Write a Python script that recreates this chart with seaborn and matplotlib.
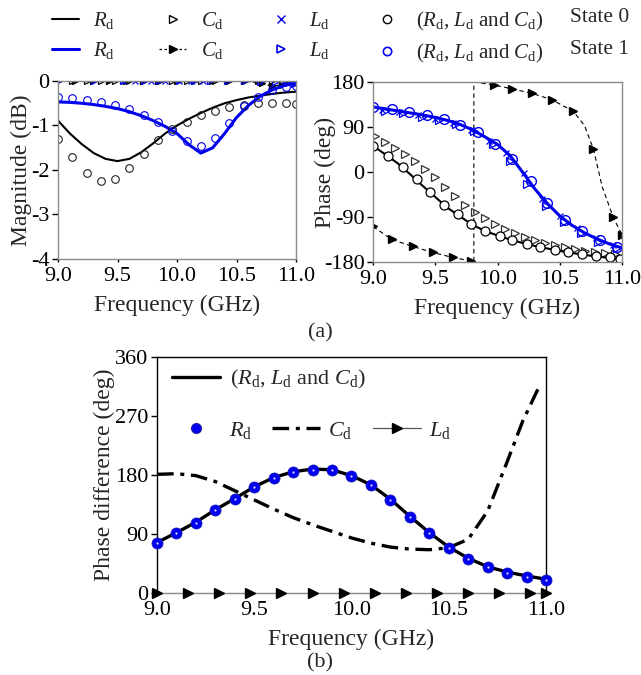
import matplotlib
matplotlib.use("Agg")
import matplotlib.pyplot as plt
from matplotlib.lines import Line2D
from matplotlib.ticker import FormatStrFormatter
import seaborn as sns

# ---- (a) magnitude, dB ----
f_mag_line = [9.0, 9.1, 9.2, 9.3, 9.4, 9.5, 9.6, 9.7, 9.8, 9.9, 10.0,
              10.1, 10.2, 10.3, 10.4, 10.5, 10.6, 10.7, 10.8, 10.9, 11.0]
mag_rd_s0 = [-0.89, -1.18, -1.42, -1.62, -1.75, -1.80, -1.75, -1.60, -1.40, -1.18, -1.00,
             -0.85, -0.72, -0.60, -0.50, -0.43, -0.37, -0.33, -0.29, -0.26, -0.24]
mag_rd_s1 = [-0.47, -0.48, -0.50, -0.53, -0.57, -0.62, -0.69, -0.78, -0.89, -1.02, -1.18,
             -1.43, -1.62, -1.50, -1.18, -0.82, -0.55, -0.34, -0.20, -0.10, -0.04]

f_mag_pts = [9.0, 9.12, 9.24, 9.36, 9.48, 9.6, 9.72, 9.84, 9.96,
             10.08, 10.2, 10.32, 10.44, 10.56, 10.68, 10.8, 10.92, 11.0]
mag_all_s0 = [-1.30, -1.70, -2.06, -2.25, -2.20, -1.95, -1.64, -1.33, -1.08,
              -0.92, -0.77, -0.67, -0.59, -0.53, -0.50, -0.49, -0.50, -0.51]
mag_all_s1 = [-0.36, -0.39, -0.43, -0.48, -0.54, -0.63, -0.76, -0.93, -1.12,
              -1.34, -1.45, -1.27, -0.94, -0.56, -0.35, -0.20, -0.13, -0.11]
mag_cd_s0 = [0.0] * 18

f_mag_cd1 = [9.0, 9.14, 9.29, 9.43, 9.57, 9.71, 9.86, 10.0, 10.14, 10.29,
             10.43, 10.57, 10.71, 10.8, 10.88, 11.0]
mag_cd_s1 = [0.0, 0.0, 0.0, 0.0, 0.0, 0.0, 0.0, 0.0, 0.0, 0.0,
             0.0, 0.0, -0.05, -0.12, -0.08, 0.0]
f_mag_ld = [9.55, 9.65, 9.78, 9.9, 10.02, 10.12, 10.22, 10.9, 10.97]
mag_ld_s0 = [0.0] * 9
f_mag_ld1 = [9.0, 9.3, 9.55, 9.72, 9.85, 10.02, 10.14, 10.28, 10.42,
             10.56, 10.7, 10.82, 10.93, 10.98, 11.0]
mag_ld_s1 = [0.0, 0.0, 0.0, 0.0, 0.0, 0.0, 0.0, 0.0, 0.0,
             0.0, -0.02, -0.02, -0.05, -0.06, -0.05]

# ---- (a) phase, deg ----
ph_rd_s0 = [52, 35, 17, -5, -28, -50, -72, -89, -106, -118, -127,
            -135, -142, -148, -153, -158, -162, -166, -169, -172, -175]
ph_rd_s1 = [130, 126, 122, 118, 114, 109, 103, 95, 84, 70, 55,
            33, 0, -34, -63, -88, -107, -122, -134, -144, -152]

f_ph_all0 = [9.0, 9.12, 9.24, 9.35, 9.46, 9.57, 9.68, 9.79, 9.9, 10.02,
             10.12, 10.24, 10.34, 10.46, 10.57, 10.68, 10.79, 10.9, 10.98]
ph_all_s0 = [52, 32, 9, -15, -41, -67, -85, -104, -118, -128,
             -137, -144, -151, -156, -161, -165, -168, -171, -174]

f_ph_all1 = [9.0, 9.15, 9.29, 9.43, 9.57, 9.7, 9.84, 9.98, 10.12, 10.27,
             10.4, 10.54, 10.68, 10.82, 10.96]
ph_all_s1 = [129, 125, 119, 113, 105, 94, 79, 56, 25, -19,
             -63, -96, -119, -136, -150]

f_ph_ld0 = [9.07, 9.21, 9.36, 9.5, 9.64, 9.79, 9.93, 10.07, 10.21, 10.36,
            10.5, 10.64, 10.79, 10.93]
ph_ld_s0 = [124, 119, 113, 106, 98, 83, 62, 38, -2, -55,
            -88, -113, -133, -146]
f_ph_ld1 = [9.1, 9.24, 9.39, 9.53, 9.67, 9.81, 9.96, 10.1, 10.24, 10.39,
            10.53, 10.67, 10.81, 10.96]
ph_ld_s1 = [122, 117, 110, 103, 95, 81, 55, 22, -25, -68,
            -100, -123, -140, -152]

f_ph_cd0 = [9.02, 9.1, 9.18, 9.26, 9.34, 9.42, 9.5, 9.58, 9.66, 9.74, 9.82, 9.9, 9.98,
            10.06, 10.14, 10.22, 10.3, 10.38, 10.46, 10.54, 10.62, 10.7, 10.78, 10.86, 10.94]
ph_cd_s0 = [71, 60, 48, 35, 21, 6, -10, -30, -48, -66, -80, -93, -104,
            -114, -123, -130, -136, -142, -147, -151, -155, -158, -161, -163, -165]

# C_d state 1 phase wraps at 9.81 GHz (-180 -> 180)
f_ph_cd1 = [9.0, 9.15, 9.32, 9.48, 9.64, 9.79, 9.81, 9.81, 9.97, 10.12, 10.28,
            10.44, 10.61, 10.7, 10.77, 10.84, 10.93, 11.0]
ph_cd_s1 = [-109, -135, -149, -161, -171, -178, -180, 180, 174, 166, 157,
            144, 121, 92, 46, -29, -91, -126]
cd1_marked = [0, 1, 2, 3, 4, 5, 8, 9, 10, 11, 12, 14, 16, 17]

# ---- (b) phase difference, deg ----
f_diff = [9.0, 9.1, 9.2, 9.3, 9.4, 9.5, 9.6, 9.7, 9.8, 9.9, 10.0,
          10.1, 10.2, 10.3, 10.4, 10.5, 10.6, 10.7, 10.8, 10.9, 11.0]
diff_all = [77, 92, 108, 127, 144, 162, 176, 185, 189, 188, 179,
            165, 143, 117, 92, 70, 53, 40, 32, 26, 21]
diff_rd = [76, 91, 107, 126, 143, 162, 175, 184, 188, 187, 178,
           164, 142, 116, 91, 69, 52, 39, 31, 25, 20]
f_diff_cd = [9.0, 9.1, 9.2, 9.3, 9.4, 9.5, 9.6, 9.7, 9.8, 9.9, 10.0,
             10.1, 10.2, 10.3, 10.4, 10.5, 10.6, 10.7, 10.8, 10.88, 10.96]
diff_cd = [181, 182, 179, 170, 156, 142, 128, 115, 104, 94, 84,
           76, 70, 67, 66, 69, 82, 125, 200, 262, 312]
f_diff_ld = [9.0, 9.16, 9.32, 9.48, 9.64, 9.8, 9.96, 10.12, 10.28, 10.44,
             10.6, 10.76, 10.92, 11.0]
diff_ld = [0.0] * 14

RD = r'$R_\mathrm{d}$'
CD = r'$C_\mathrm{d}$'
LD = r'$L_\mathrm{d}$'
ALL = r'($R_\mathrm{d}$, $L_\mathrm{d}$ and $C_\mathrm{d}$)'
BLUE = '#0000ee'

sns.set_theme(style="ticks")
plt.rcParams['font.family'] = ['Liberation Serif', 'DejaVu Serif']
plt.rcParams['mathtext.fontset'] = 'custom'
plt.rcParams['mathtext.rm'] = 'Liberation Serif'
plt.rcParams['mathtext.it'] = 'Liberation Serif:italic'
plt.rcParams['font.size'] = 16

fig = plt.figure(figsize=(6.41, 6.75), dpi=100)
ax1 = fig.add_axes([0.0905, 0.6163, 0.3713, 0.2637])
ax2 = fig.add_axes([0.5819, 0.6119, 0.3885, 0.2667])
ax3 = fig.add_axes([0.2449, 0.1215, 0.6069, 0.3496])


def style_axes(ax, spine_col):
    for s in ax.spines.values():
        s.set_color(spine_col)
        s.set_linewidth(1.0)
    ax.tick_params(direction='out', length=4, width=1, colors='black', labelsize=16, pad=2)
    ax.tick_params(axis='x', length=2, pad=4)
    ax.set_xlim(9.0, 11.0)
    ax.set_xticks([9.0, 9.5, 10.0, 10.5, 11.0])
    ax.xaxis.set_major_formatter(FormatStrFormatter('%.1f'))


# magnitude
style_axes(ax1, '#8a8a8a')
ax1.plot(f_mag_pts, mag_cd_s0, ls='none', marker='>', ms=5, mfc='none', mec='black', mew=0.9)
ax1.plot(f_mag_cd1, mag_cd_s1, color='black', lw=0.9, ls=(0, (4, 2)), marker='>', ms=5, mfc='black', mec='black')
ax1.plot(f_mag_ld, mag_ld_s0, ls='none', marker='x', ms=5, mec=BLUE, mew=0.9)
ax1.plot(f_mag_ld1, mag_ld_s1, ls='none', marker='>', ms=5, mfc='none', mec=BLUE, mew=0.9)
sns.lineplot(x=f_mag_line, y=mag_rd_s0, ax=ax1, color='black', lw=1.5)
sns.lineplot(x=f_mag_line, y=mag_rd_s1, ax=ax1, color=BLUE, lw=2.2)
ax1.plot(f_mag_pts, mag_all_s0, ls='none', marker='o', ms=5.5, mfc='none', mec='#222222', mew=0.8)
ax1.plot(f_mag_pts, mag_all_s1, ls='none', marker='o', ms=5.5, mfc='none', mec=BLUE, mew=0.8)
ax1.set_ylim(-4, 0)
ax1.set_yticks([0, -1, -2, -3, -4])
ax1.set_yticklabels(['0', '-1', '-2', '-3', '-4'])
ax1.set_xlabel('Frequency (GHz)', fontsize=17, labelpad=6)
ax1.set_ylabel('Magnitude (dB)', fontsize=17)
ax1.yaxis.set_label_coords(-0.11, 0.5)

# phase
style_axes(ax2, '#8a8a8a')
ax2.plot(f_ph_cd1, ph_cd_s1, color='black', lw=0.8, ls=(0, (4, 3)), marker='>', ms=6,
         mfc='black', mec='black', markevery=cd1_marked)
ax2.plot(f_ph_cd0, ph_cd_s0, ls='none', marker='>', ms=6, mfc='none', mec='#333333', mew=0.9)
sns.lineplot(x=f_mag_line, y=ph_rd_s0, ax=ax2, color='black', lw=1.5)
ax2.plot(f_ph_all0, ph_all_s0, ls='none', marker='o', ms=6.5, mfc='white', mec='black', mew=0.9)
sns.lineplot(x=f_mag_line, y=ph_rd_s1, ax=ax2, color=BLUE, lw=2.2)
ax2.plot(f_ph_ld0, ph_ld_s0, ls='none', marker='x', ms=5, mec=BLUE, mew=0.9)
ax2.plot(f_ph_ld1, ph_ld_s1, ls='none', marker='>', ms=5.5, mfc='none', mec=BLUE, mew=0.9)
ax2.plot(f_ph_all1, ph_all_s1, ls='none', marker='o', ms=7, mfc='none', mec=BLUE, mew=1.0)
ax2.set_ylim(-180, 180)
ax2.set_yticks([180, 90, 0, -90, -180])
ax2.set_yticklabels(['180', '90', '0', '-90', '-180'])
ax2.set_xlabel('Frequency (GHz)', fontsize=17, labelpad=6)
ax2.set_ylabel('Phase (deg)', fontsize=17)
ax2.yaxis.set_label_coords(-0.15, 0.5)

# phase difference
style_axes(ax3, 'black')
ax3.spines['bottom'].set_color('#bbbbbb')
ax3.tick_params(axis='x', length=0, pad=6)
ax3.plot(f_diff_ld, diff_ld, color='#8c8c8c', lw=0.9, marker='>', ms=6.5, mfc='black', mec='black',
         clip_on=False, zorder=3)
sns.lineplot(x=f_diff_cd, y=diff_cd, ax=ax3, color='black', lw=2.4, ls=(0, (5, 2, 1.2, 2)))
sns.lineplot(x=f_diff, y=diff_all, ax=ax3, color='black', lw=2.4)
ax3.plot(f_diff, diff_rd, ls='none', marker='o', ms=8, mfc=BLUE, mec='#1a1ab0', mew=0.5,
         clip_on=False, zorder=4)
ax3.plot(f_diff, diff_rd, ls='none', marker='o', ms=1.6, mfc='#dcdcff', mec='none',
         clip_on=False, zorder=5)
ax3.set_ylim(0, 360)
ax3.set_yticks([0, 90, 180, 270, 360])
ax3.set_xlabel('Frequency (GHz)', fontsize=17, labelpad=6)
ax3.set_ylabel('Phase difference (deg)', fontsize=17)
ax3.yaxis.set_label_coords(-0.108, 0.5)

h_all = Line2D([], [], color='black', lw=2.4)
leg1 = ax3.legend([h_all], [ALL], loc='upper left', bbox_to_anchor=(-0.013, 1.037), frameon=False,
                  fontsize=16, handlelength=2.15, handletextpad=0.45)
ax3.add_artist(leg1)
h_rd = Line2D([], [], ls='none', marker='o', ms=7, mfc=BLUE, mec='#1a1ab0')
h_cd = Line2D([], [], color='black', lw=2.4, ls=(0, (5, 2, 1.2, 2)))
h_ld = Line2D([], [], color='#555555', lw=0.9, marker='>', ms=6.5, mfc='black', mec='black')
ax3.legend([h_rd, h_cd, h_ld], [RD, CD, LD], loc='upper left', bbox_to_anchor=(-0.013, 0.817),
           ncol=3, frameon=False, fontsize=16, handlelength=2.15, handletextpad=0.4, columnspacing=0.9)

# top legend
handles = [
    Line2D([], [], color='black', lw=1.5),
    Line2D([], [], color=BLUE, lw=2.2),
    Line2D([], [], ls='none', marker='>', ms=6, mfc='none', mec='black'),
    Line2D([], [], color='black', lw=0.9, ls=(0, (2, 2)), marker='>', ms=6, mfc='black', mec='black'),
    Line2D([], [], ls='none', marker='x', ms=6, mec=BLUE),
    Line2D([], [], ls='none', marker='>', ms=6, mfc='none', mec=BLUE, mew=1.2),
    Line2D([], [], ls='none', marker='o', ms=6, mfc='none', mec='black'),
    Line2D([], [], ls='none', marker='o', ms=6, mfc='none', mec=BLUE, mew=1.2),
]
labels = [RD, RD, CD, CD, LD, LD, ALL, ALL]
fig.legend(handles, labels, ncol=4, loc='upper left', bbox_to_anchor=(0.058, 1.007),
           frameon=False, fontsize=15, handlelength=1.3, handletextpad=0.7,
           columnspacing=2.1, labelspacing=0.42, borderpad=0.2)
fig.text(0.889, 1 - 18 / 675, 'State 0', fontsize=15.5, va='center')
fig.text(0.889, 1 - 50 / 675, 'State 1', fontsize=15.5, va='center')

fig.text(0.5, 1 - 333 / 675, '(a)', fontsize=16, ha='center', va='center')
fig.text(0.5, 1 - 663 / 675, '(b)', fontsize=16, ha='center', va='center')

fig.savefig('out.png', dpi=100)
